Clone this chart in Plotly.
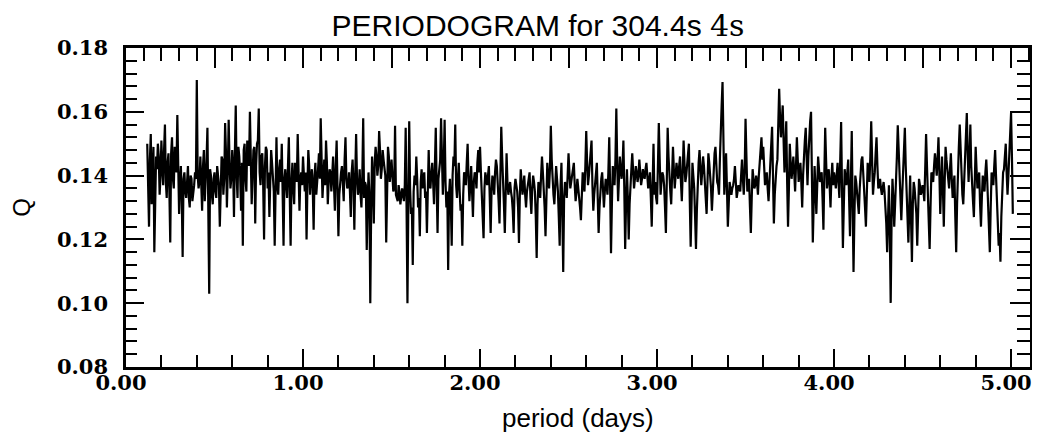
import numpy as np
import plotly.graph_objects as go

# Periodogram values Q.
# Each day of period has a list on the 0.01-day grid and a list on the
# in-between half-step grid (offset 0.005 day).
period_step = 0.01
half_step = 0.005

q_day0_start = 0.12
q_day0 = [0.150, 0.124, 0.153, 0.138, 0.116, 0.146, 0.150, 0.134,
          0.151, 0.137, 0.156, 0.133, 0.147, 0.119, 0.152, 0.136, 0.145, 0.159, 0.128, 0.143,
          0.1145, 0.141, 0.133, 0.143, 0.130, 0.139, 0.134, 0.141, 0.170, 0.136,
          0.146, 0.129, 0.148, 0.137, 0.155, 0.103, 0.140, 0.131, 0.141, 0.133,
          0.138, 0.124, 0.146, 0.134, 0.1565, 0.130, 0.1575, 0.136, 0.148, 0.127,
          0.162, 0.133, 0.146, 0.129, 0.118, 0.150, 0.135, 0.146, 0.160, 0.131,
          0.148, 0.125, 0.150, 0.161, 0.137, 0.147, 0.120, 0.149, 0.136, 0.127,
          0.148, 0.140, 0.118, 0.152, 0.134, 0.145, 0.150, 0.118, 0.142, 0.133,
          0.152, 0.118, 0.144, 0.131, 0.140, 0.153, 0.129, 0.141]
q_day0_mid = [0.139, 0.145, 0.131, 0.149, 0.137, 0.142, 0.146, 0.140,
              0.143, 0.148, 0.138, 0.144, 0.135, 0.147, 0.139, 0.149, 0.141, 0.136,
              0.137, 0.133, 0.139, 0.135, 0.138, 0.133, 0.140, 0.132, 0.137, 0.139,
              0.140, 0.138, 0.134, 0.143, 0.132, 0.145, 0.136, 0.142, 0.134, 0.139,
              0.135, 0.143, 0.137, 0.141, 0.145, 0.139, 0.147, 0.141, 0.144, 0.139,
              0.143, 0.147, 0.140, 0.149, 0.140, 0.144, 0.148, 0.139, 0.151, 0.143,
              0.145, 0.140, 0.149, 0.143, 0.151, 0.141, 0.146, 0.137, 0.143, 0.148,
              0.141, 0.138, 0.144, 0.135, 0.140, 0.137, 0.142, 0.138, 0.134, 0.139,
              0.137, 0.143, 0.134, 0.138, 0.136, 0.144, 0.138, 0.135, 0.139, 0.137]

q_day1_start = 1.00
q_day1 = [0.146, 0.135, 0.120, 0.148, 0.134, 0.142, 0.123, 0.144, 0.137, 0.147,
          0.158, 0.133, 0.145, 0.151, 0.131, 0.142, 0.135, 0.146, 0.129, 0.151,
          0.121, 0.139, 0.143, 0.132, 0.152, 0.136, 0.141, 0.127, 0.145, 0.123,
          0.153, 0.134, 0.142, 0.130, 0.158, 0.138, 0.1167, 0.141, 0.100, 0.146,
          0.125, 0.149, 0.140, 0.154, 0.139, 0.148, 0.141, 0.119, 0.149, 0.138,
          0.145, 0.135, 0.1556, 0.133, 0.137, 0.131, 0.136, 0.132, 0.155, 0.100,
          0.157, 0.128, 0.112, 0.140, 0.146, 0.130, 0.121, 0.142, 0.140, 0.133,
          0.122, 0.148, 0.136, 0.144, 0.131, 0.155, 0.122, 0.143, 0.158, 0.134,
          0.1575, 0.130, 0.1104, 0.139, 0.118, 0.146, 0.156, 0.133, 0.144, 0.129,
          0.118, 0.141, 0.137, 0.150, 0.132, 0.143, 0.127, 0.141, 0.136, 0.148]
q_day1_mid = [0.140, 0.141, 0.137, 0.143, 0.139, 0.136, 0.140, 0.134, 0.142, 0.139,
              0.143, 0.139, 0.137, 0.144, 0.138, 0.141, 0.140, 0.137, 0.143, 0.136,
              0.134, 0.141, 0.137, 0.145, 0.139, 0.137, 0.135, 0.141, 0.137, 0.140,
              0.139, 0.136, 0.134, 0.140, 0.133, 0.137, 0.131, 0.134, 0.129, 0.138,
              0.144, 0.146, 0.143, 0.148, 0.142, 0.145, 0.140, 0.144, 0.146, 0.141,
              0.140, 0.136, 0.134, 0.132, 0.135, 0.133, 0.134, 0.137, 0.130, 0.131,
              0.136, 0.130, 0.135, 0.137, 0.139, 0.133, 0.138, 0.136, 0.141, 0.135,
              0.140, 0.137, 0.141, 0.138, 0.143, 0.137, 0.139, 0.145, 0.140, 0.143,
              0.138, 0.135, 0.134, 0.131, 0.140, 0.143, 0.137, 0.139, 0.135, 0.131,
              0.134, 0.140, 0.144, 0.139, 0.137, 0.135, 0.138, 0.140, 0.144, 0.141]

q_day2_start = 2.00
q_day2 = [0.149, 0.134, 0.1204, 0.141, 0.137, 0.143, 0.122, 0.140, 0.134, 0.145,
          0.139, 0.125, 0.1553, 0.140, 0.122, 0.147, 0.134, 0.138, 0.133, 0.122,
          0.139, 0.135, 0.1189, 0.142, 0.134, 0.140, 0.130, 0.137, 0.141, 0.128,
          0.140, 0.135, 0.1142, 0.138, 0.133, 0.146, 0.137, 0.121, 0.144, 0.136,
          0.1556, 0.138, 0.131, 0.143, 0.135, 0.118, 0.144, 0.1098, 0.138, 0.133,
          0.147, 0.136, 0.140, 0.144, 0.132, 0.139, 0.131, 0.126, 0.141, 0.135,
          0.154, 0.137, 0.143, 0.151, 0.129, 0.138, 0.144, 0.122, 0.136, 0.141,
          0.130, 0.139, 0.134, 0.152, 0.1157, 0.143, 0.137, 0.161, 0.132, 0.146,
          0.139, 0.151, 0.117, 0.142, 0.120, 0.140, 0.147, 0.136, 0.143, 0.138,
          0.145, 0.137, 0.142, 0.139, 0.144, 0.136, 0.141, 0.124, 0.150, 0.138]
q_day2_mid = [0.141, 0.128, 0.136, 0.139, 0.140, 0.133, 0.135, 0.138, 0.141, 0.143,
              0.132, 0.144, 0.146, 0.131, 0.140, 0.138, 0.136, 0.135, 0.129, 0.136,
              0.137, 0.130, 0.134, 0.138, 0.137, 0.134, 0.135, 0.139, 0.133, 0.136,
              0.138, 0.127, 0.131, 0.136, 0.140, 0.141, 0.130, 0.139, 0.140, 0.142,
              0.145, 0.134, 0.138, 0.139, 0.127, 0.137, 0.128, 0.133, 0.136, 0.140,
              0.141, 0.138, 0.142, 0.137, 0.135, 0.136, 0.130, 0.134, 0.138, 0.143,
              0.144, 0.140, 0.146, 0.137, 0.134, 0.141, 0.133, 0.130, 0.139, 0.137,
              0.135, 0.137, 0.141, 0.136, 0.131, 0.140, 0.145, 0.144, 0.139, 0.142,
              0.143, 0.136, 0.131, 0.133, 0.131, 0.142, 0.140, 0.139, 0.141, 0.140,
              0.141, 0.139, 0.140, 0.142, 0.140, 0.138, 0.133, 0.137, 0.134, 0.133]

q_day3_start = 3.00
q_day3 = [0.131, 0.1565, 0.134, 0.141, 0.137, 0.122, 0.155, 0.138, 0.131, 0.149,
          0.136, 0.144, 0.139, 0.146, 0.132, 0.151, 0.138, 0.143, 0.150, 0.1177,
          0.144, 0.136, 0.117, 0.140, 0.148, 0.137, 0.146, 0.139, 0.128, 0.147,
          0.141, 0.129, 0.145, 0.149, 0.138, 0.134, 0.157, 0.1693, 0.134, 0.147,
          0.124, 0.138, 0.134, 0.137, 0.143, 0.133, 0.137, 0.135, 0.145, 0.134,
          0.1578, 0.135, 0.139, 0.122, 0.142, 0.136, 0.140, 0.134, 0.144, 0.152,
          0.149, 0.137, 0.141, 0.132, 0.143, 0.1553, 0.125, 0.141, 0.145, 0.1672,
          0.152, 0.162, 0.141, 0.157, 0.124, 0.150, 0.139, 0.146, 0.135, 0.152,
          0.138, 0.144, 0.130, 0.148, 0.155, 0.137, 0.154, 0.160, 0.119, 0.143,
          0.128, 0.146, 0.138, 0.141, 0.123, 0.155, 0.136, 0.142, 0.130, 0.144]
q_day3_mid = [0.143, 0.145, 0.138, 0.140, 0.130, 0.138, 0.146, 0.135, 0.140, 0.142,
              0.140, 0.141, 0.143, 0.138, 0.141, 0.144, 0.140, 0.146, 0.132, 0.131,
              0.140, 0.127, 0.129, 0.144, 0.142, 0.141, 0.143, 0.134, 0.138, 0.144,
              0.136, 0.137, 0.147, 0.143, 0.137, 0.145, 0.162, 0.151, 0.140, 0.136,
              0.131, 0.136, 0.136, 0.139, 0.138, 0.135, 0.136, 0.140, 0.139, 0.141,
              0.146, 0.137, 0.130, 0.133, 0.139, 0.137, 0.138, 0.140, 0.147, 0.145,
              0.143, 0.139, 0.136, 0.138, 0.147, 0.140, 0.134, 0.143, 0.155, 0.158,
              0.157, 0.151, 0.148, 0.138, 0.136, 0.144, 0.142, 0.141, 0.143, 0.145,
              0.141, 0.138, 0.140, 0.151, 0.145, 0.146, 0.157, 0.139, 0.131, 0.136,
              0.137, 0.142, 0.140, 0.133, 0.140, 0.145, 0.139, 0.137, 0.139, 0.137]

q_day4_start = 4.00
q_day4 = [0.141, 0.136, 0.144, 0.133, 0.1568, 0.1173, 0.142, 0.137, 0.145, 0.121,
          0.154, 0.1098, 0.140, 0.135, 0.128, 0.143, 0.146, 0.133, 0.124, 0.144,
          0.138, 0.157, 0.134, 0.141, 0.152, 0.136, 0.139, 0.134, 0.138, 0.131,
          0.116, 0.137, 0.1001, 0.139, 0.124, 0.137, 0.1558, 0.145, 0.126, 0.141,
          0.155, 0.133, 0.119, 0.140, 0.1129, 0.138, 0.133, 0.118, 0.139, 0.134,
          0.137, 0.132, 0.153, 0.135, 0.117, 0.141, 0.138, 0.147, 0.140, 0.152,
          0.128, 0.146, 0.124, 0.149, 0.141, 0.136, 0.147, 0.133, 0.140, 0.116,
          0.144, 0.156, 0.137, 0.131, 0.145, 0.1596, 0.138, 0.156, 0.134, 0.127,
          0.149, 0.136, 0.141, 0.124, 0.140, 0.135, 0.145, 0.132, 0.116, 0.141,
          0.137, 0.148, 0.133, 0.118, 0.113, 0.138, 0.142, 0.150, 0.134, 0.147,
          0.1596, 0.128]
q_day4_mid = [0.139, 0.140, 0.138, 0.145, 0.136, 0.130, 0.139, 0.141, 0.133, 0.138,
              0.131, 0.127, 0.138, 0.132, 0.136, 0.145, 0.139, 0.130, 0.135, 0.141,
              0.146, 0.145, 0.138, 0.147, 0.143, 0.137, 0.136, 0.136, 0.135, 0.125,
              0.128, 0.122, 0.126, 0.133, 0.131, 0.146, 0.149, 0.136, 0.134, 0.147,
              0.143, 0.128, 0.130, 0.126, 0.131, 0.136, 0.128, 0.130, 0.137, 0.135,
              0.135, 0.142, 0.143, 0.127, 0.130, 0.140, 0.143, 0.144, 0.145, 0.141,
              0.137, 0.136, 0.138, 0.145, 0.139, 0.142, 0.139, 0.137, 0.127, 0.131,
              0.149, 0.146, 0.134, 0.139, 0.150, 0.147, 0.146, 0.143, 0.132, 0.140,
              0.142, 0.138, 0.131, 0.133, 0.138, 0.141, 0.139, 0.125, 0.130, 0.139,
              0.143, 0.140, 0.126, 0.122, 0.127, 0.141, 0.146, 0.141, 0.140, 0.153,
              0.146]

x_tick_vals = [0, 1, 2, 3, 4, 5]
x_tick_text = ["0.00", "1.00", "2.00", "3.00", "4.00", "5.00"]
y_tick_vals = [0.08, 0.10, 0.12, 0.14, 0.16, 0.18]
y_tick_text = ["0.08", "0.10", "0.12", "0.14", "0.16", "0.18"]

chunks = [(q_day0_start, q_day0, q_day0_mid), (q_day1_start, q_day1, q_day1_mid),
          (q_day2_start, q_day2, q_day2_mid), (q_day3_start, q_day3, q_day3_mid),
          (q_day4_start, q_day4, q_day4_mid)]
period = []
q = []
for start, vals, mids in chunks:
    for i, v in enumerate(vals):
        period.append(round(start + period_step * i, 3))
        q.append(v)
        if i < len(mids):
            period.append(round(start + period_step * i + half_step, 3))
            q.append(mids[i])

X_RANGE = [0, 5.107]
Y_RANGE = [0.08, 0.18]

# page has an 8px body margin; figure is sized to end at the window edges
FIG_W, FIG_H = 1032, 426

tickfont = dict(family="DejaVu Serif", size=21, color="black", weight="bold")

fig = go.Figure()
fig.add_trace(go.Scatter(x=period, y=q, mode="lines",
                         line=dict(color="black", width=2.2),
                         showlegend=False, hoverinfo="skip"))
fig.add_trace(go.Scatter(x=[None], y=[None], xaxis="x2", yaxis="y2",
                         mode="lines", showlegend=False, hoverinfo="skip"))

fig.update_layout(
    width=FIG_W, height=FIG_H,
    margin=dict(l=118, r=8, t=40, b=67),
    paper_bgcolor="white", plot_bgcolor="white",
    title=dict(
        text="PERIODOGRAM for 304.4s <span style='font-family:DejaVu Serif'>4s</span>",
        font=dict(family="Liberation Sans", size=30, color="black"),
        x=530 / FIG_W, xanchor="center", xref="container",
        y=1 - 17 / FIG_H, yanchor="middle", yref="container"),
    xaxis=dict(range=X_RANGE, tickmode="array", tickvals=x_tick_vals, ticktext=x_tick_text,
               ticks="inside", ticklen=18, tickwidth=2, tickcolor="black",
               minor=dict(dtick=0.2, tick0=0, ticks="inside", ticklen=12, tickwidth=2,
                          tickcolor="black", showgrid=False),
               showline=True, linewidth=2.5, linecolor="black",
               showgrid=False, zeroline=False, tickfont=tickfont,
               ticklabelshift=-5, ticklabelstandoff=-5),
    yaxis=dict(range=Y_RANGE, tickmode="array", tickvals=y_tick_vals, ticktext=y_tick_text,
               ticks="inside", ticklen=18, tickwidth=2, tickcolor="black",
               minor=dict(dtick=0.004, tick0=0.08, ticks="inside", ticklen=11, tickwidth=2,
                          tickcolor="black", showgrid=False),
               showline=True, linewidth=2.5, linecolor="black",
               showgrid=False, zeroline=False, tickfont=tickfont,
               ticklabelstandoff=11),
    xaxis2=dict(range=X_RANGE, overlaying="x", side="top", anchor="y",
                tickmode="linear", tick0=0, dtick=0.5,
                ticks="inside", ticklen=20, tickwidth=2, tickcolor="black",
                minor=dict(dtick=0.1, tick0=0, ticks="inside", ticklen=13, tickwidth=2,
                           tickcolor="black", showgrid=False),
                showline=True, linewidth=2.5, linecolor="black",
                showgrid=False, zeroline=False, showticklabels=False),
    yaxis2=dict(range=Y_RANGE, overlaying="y", side="right", anchor="x",
                tickmode="linear", tick0=0.08, dtick=0.02,
                ticks="inside", ticklen=20, tickwidth=2, tickcolor="black",
                minor=dict(dtick=0.004, tick0=0.08, ticks="inside", ticklen=13, tickwidth=2,
                           tickcolor="black", showgrid=False),
                showline=True, linewidth=2.5, linecolor="black",
                showgrid=False, zeroline=False, showticklabels=False),
    annotations=[
        dict(text="period (days)", x=0.5, y=-51 / 319, xref="paper", yref="paper",
             xanchor="center", yanchor="middle", showarrow=False,
             font=dict(family="Liberation Sans", size=26, color="black")),
        dict(text="Q", x=-105 / 906, y=0.5, xref="paper", yref="paper",
             xanchor="center", yanchor="middle", showarrow=False, textangle=-90,
             font=dict(family="Liberation Sans", size=24, color="black")),
    ],
)

fig.write_html("out.html")
